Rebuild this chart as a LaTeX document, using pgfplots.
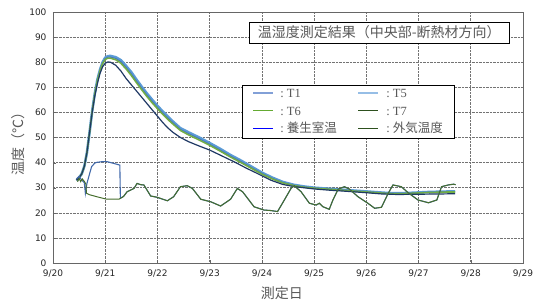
\documentclass[border=0pt]{standalone}
\usepackage{pgfplots}
\pgfplotsset{compat=1.18}
\usepackage{fontspec}
\setmainfont{Liberation Serif}
\newfontfamily\cjk{Noto Sans CJK JP}
\newfontfamily\tickfont{DejaVu Sans}
\definecolor{cTa}{RGB}{68,114,196}
\definecolor{cTb}{RGB}{91,155,213}
\definecolor{cTc}{RGB}{112,173,71}
\definecolor{cTd}{RGB}{31,56,100}
\definecolor{cRoom}{RGB}{65,105,170}
\definecolor{cOut}{RGB}{70,110,45}
\definecolor{lTa}{RGB}{130,160,215}
\definecolor{lTb}{RGB}{150,190,230}
\definecolor{lTc}{RGB}{100,170,50}
\definecolor{lTd}{RGB}{45,80,30}
\definecolor{lRoom}{RGB}{0,0,255}
\definecolor{lOut}{RGB}{45,80,30}
\definecolor{txtgray}{RGB}{89,89,89}
\newcommand{\sw}[2]{\textcolor{#1}{\rule[0.32em]{20pt}{#2}}}

\pgfplotstableread{
d T
0.45 33
0.5 34
0.55 35.5
0.6 38.5
0.65 44
0.7 52
0.75 60.5
0.8 67.5
0.85 73
0.9 77
0.95 80
1.0 81.8
1.05 82.4
1.1 82.5
1.2 82.0
1.3 80.8
1.4 78.5
1.5 76
1.6 73
1.7 70.2
1.8 67.5
1.9 65
2.0 62.6
2.1 60.4
2.2 58.3
2.3 56.3
2.44 53.7
2.6 52.0
2.8 50.0
3.0 47.8
3.2 45.5
3.4 43
3.6 40.8
3.8 38.4
4.0 36
4.2 34
4.4 32.3
4.6 31.2
4.8 30.5
5.0 30.0
5.2 29.7
5.4 29.4
5.6 29.1
5.8 28.8
6.0 28.5
6.2 28.2
6.4 27.9
6.6 27.8
6.8 27.9
7.0 28.1
7.2 28.3
7.4 28.4
7.6 28.5
7.7 28.5
}\tFive

\pgfplotstableread{
d T
0.45 33
0.5 34
0.55 35.5
0.6 38.5
0.65 44
0.7 52
0.75 60.3
0.8 67.3
0.85 72.7
0.9 76.6
0.95 79.5
1.0 81.1
1.05 81.6
1.1 81.6
1.2 81.0
1.3 79.6
1.4 77.3
1.5 74.7
1.6 71.8
1.7 69.0
1.8 66.3
1.9 63.8
2.0 61.5
2.1 59.3
2.2 57.2
2.3 55.3
2.44 52.8
2.6 51.0
2.8 49.0
3.0 46.9
3.2 44.6
3.4 42.2
3.6 40.0
3.8 37.7
4.0 35.4
4.2 33.5
4.4 31.9
4.6 30.9
4.8 30.2
5.0 29.8
5.2 29.5
5.4 29.2
5.6 28.9
5.8 28.6
6.0 28.3
6.2 28.0
6.4 27.7
6.6 27.6
6.8 27.7
7.0 27.9
7.2 28.1
7.4 28.2
7.6 28.3
7.7 28.3
}\tSix

\pgfplotstableread{
d T
0.45 33
0.5 34
0.55 35.5
0.6 38.5
0.65 44
0.7 52
0.75 60.4
0.8 67.4
0.85 72.8
0.9 76.8
0.95 79.7
1.0 81.4
1.05 82.0
1.1 82.0
1.2 81.5
1.3 80.2
1.4 77.9
1.5 75.3
1.6 72.4
1.7 69.6
1.8 66.9
1.9 64.4
2.0 62.0
2.1 59.8
2.2 57.7
2.3 55.8
2.44 53.2
2.6 51.5
2.8 49.5
3.0 47.3
3.2 45.0
3.4 42.6
3.6 40.4
3.8 38.0
4.0 35.7
4.2 33.7
4.4 32.1
4.6 31.0
4.8 30.3
5.0 29.9
5.2 29.6
5.4 29.3
5.6 29.0
5.8 28.7
6.0 28.4
6.2 28.1
6.4 27.8
6.6 27.7
6.8 27.8
7.0 28.0
7.2 28.2
7.4 28.3
7.6 28.4
7.7 28.4
}\tOne

\pgfplotstableread{
d T
0.45 33
0.5 34
0.55 35.5
0.6 38.5
0.65 44
0.7 52
0.75 60
0.8 66.5
0.85 71.5
0.9 75.5
0.95 78.2
1.0 79.6
1.05 80.1
1.1 80.0
1.2 78.8
1.3 76.5
1.4 73.5
1.54 70
1.7 66
1.9 61
2.1 56
2.2 53.8
2.3 52.0
2.44 50.0
2.6 48.3
2.8 46.6
3.0 45.0
3.2 43.0
3.4 41.0
3.5 40.0
3.7 37.8
3.9 35.8
4.17 33.0
4.4 31.3
4.6 30.5
4.8 30.0
5.0 29.5
5.3 29.0
5.6 28.6
6.0 28.0
6.3 27.5
6.6 27.3
7.0 27.4
7.4 27.5
7.7 27.6
}\tSeven

\pgfplotstableread{
d T
0.47 32.4
0.5 33.7
0.53 32.4
0.56 33.5
0.6 32.5
0.63 31.5
0.64 27.8
0.7 27.2
0.84 26.4
1.03 25.4
1.26 25.4
1.35 26.5
1.42 28.4
1.55 29.7
1.61 31.7
1.68 31.2
1.74 31.1
1.87 26.7
1.99 26.2
2.19 24.8
2.31 26.4
2.44 30.4
2.57 30.8
2.67 29.7
2.83 25.4
3.02 24.4
3.21 22.7
3.40 25.4
3.53 29.7
3.63 28.4
3.85 22.4
4.04 21.1
4.17 20.9
4.3 20.5
4.43 25.1
4.56 29.8
4.62 30.8
4.75 28.4
4.91 23.8
5.04 23.1
5.1 23.8
5.17 22.4
5.29 21.4
5.36 25.1
5.46 29.4
5.58 30.4
5.68 29.4
5.84 26.4
6.03 23.8
6.16 21.8
6.29 22.2
6.42 27.8
6.51 31.1
6.67 30.4
6.8 28.0
6.99 25.1
7.19 24.0
7.35 25.1
7.44 30.4
7.57 31.1
7.67 31.4
7.71 31.2
}\tOut

\pgfplotstableread{
d T
0.45 33.5
0.5 34.5
0.55 33
0.6 32
0.62 27.8
0.65 31.7
0.7 35.5
0.74 38.4
0.8 39.8
0.84 40.1
0.95 40.4
1.03 40.4
1.16 39.7
1.28 39.0
1.29 25.8
1.35 26.5
1.42 28.4
1.55 29.7
1.61 31.7
1.68 31.2
1.74 31.1
1.87 26.7
1.99 26.2
2.19 24.8
2.31 26.4
2.44 30.4
2.57 30.8
2.67 29.7
2.83 25.4
3.02 24.4
3.21 22.7
3.40 25.4
3.53 29.7
3.63 28.4
3.85 22.4
4.04 21.1
4.17 20.9
4.3 20.5
4.43 25.1
4.56 29.8
4.62 30.8
4.75 28.4
4.91 23.8
5.04 23.1
5.1 23.8
5.17 22.4
5.29 21.4
5.36 25.1
5.46 29.4
5.58 30.4
5.68 29.4
5.84 26.4
6.03 23.8
6.16 21.8
6.29 22.2
6.42 27.8
6.51 31.1
6.67 30.4
6.8 28.0
6.99 25.1
7.19 24.0
7.35 25.1
7.44 30.4
7.57 31.1
7.67 31.4
7.71 31.2
}\tRoom

\begin{document}
\begin{tikzpicture}
\useasboundingbox (-53pt,-42pt) rectangle (481pt,263pt);
\begin{axis}[
  name=ax,
  at={(0,0)}, anchor=south west,
  scale only axis,
  width=470pt, height=251pt,
  xmin=0, xmax=9, ymin=0, ymax=100,
  xtick={0,1,...,9},
  xticklabels={9/20,9/21,9/22,9/23,9/24,9/25,9/26,9/27,9/28,9/29},
  ytick={0,10,...,100},
  /pgf/number format/assume math mode=true,
  tick label style={font=\tickfont\fontsize{9}{10}\selectfont, color=black!85},
  xticklabel style={yshift=-3pt},
  yticklabel style={xshift=-3pt},
  tick align=inside,
  major tick length=3pt,
  xtick pos=bottom, ytick pos=left,
  tick style={color=gray!80!black},
  axis line style={color=gray!80!black, line width=0.8pt},
  grid=major,
  major grid style={densely dotted, color=gray!90!black, line width=0.6pt},
  xlabel={\cjk 測定日},
  ylabel={\cjk 温度（℃）},
  xlabel style={at={(axis description cs:0.487,-0.12)}, anchor=center, font=\fontsize{14}{16}\selectfont, color=txtgray},
  ylabel style={at={(axis description cs:-0.0745,0.49)}, anchor=center, font=\fontsize{14}{16}\selectfont, color=txtgray},
]
\addplot[color=cTb, line width=2.6pt] table[x=d,y=T] {\tFive};
\addplot[color=cTa, line width=1pt] table[x=d,y=T] {\tOne};
\addplot[color=cTc, line width=1.6pt] table[x=d,y=T] {\tSix};
\addplot[color=cTd, line width=1.2pt] table[x=d,y=T] {\tSeven};
\addplot[color=cRoom, line width=1.1pt] table[x=d,y=T] {\tRoom};
\addplot[color=cOut, line width=1pt] table[x=d,y=T] {\tOut};

\node[draw=black, line width=0.8pt, fill=white, text=txtgray,
      font=\cjk\fontsize{14}{16}\selectfont, inner xsep=6pt, inner ysep=3pt,
      minimum width=260pt, minimum height=21pt]
  at (rel axis cs:0.694,0.918) {温湿度測定結果（中央部-断熱材方向）};

\node[draw=black, line width=0.8pt, fill=white, text=txtgray,
      anchor=north west, inner xsep=11pt, inner ysep=0pt,
      font=\fontsize{12.5}{17.5}\selectfont]
  at (rel axis cs:0.402,0.709) {%
  \renewcommand{\arraystretch}{1}%
  \begin{tabular}{@{}l@{\hspace{7pt}}p{78pt}@{}l@{\hspace{8pt}}l@{}}
  \sw{lTa}{1.5pt} & :\ T1 & \sw{lTb}{1.5pt} & :\ T5\\
  \sw{lTc}{1.1pt} & :\ T6 & \sw{lTd}{1.1pt} & :\ T7\\
  \sw{lRoom}{1.1pt} & :\ {\cjk 養生室温} & \sw{lOut}{1.1pt} & :\ {\cjk 外気温度}
  \end{tabular}};
\end{axis}
\end{tikzpicture}
\end{document}
